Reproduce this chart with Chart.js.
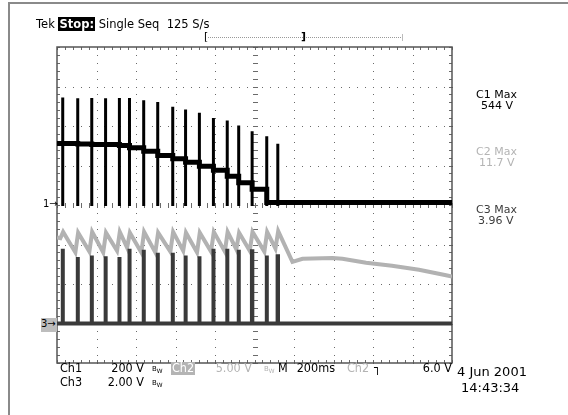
<!DOCTYPE html>
<html>
<head>
<meta charset="utf-8">
<script src="https://cdn.jsdelivr.net/npm/chart.js@4"></script>
<style>
  body { margin: 0; background: #fff; }
  #wrap { position: relative; width: 568px; height: 415px; overflow: hidden; font-family: "DejaVu Sans", sans-serif; color: #000; }
  #scope { position: absolute; left: 0; top: 0; }
  .t { position: absolute; white-space: nowrap; line-height: 1; }
  .b { font-family: "DejaVu Sans Condensed", "DejaVu Sans", sans-serif; font-stretch: condensed; font-size: 12.5px; top: 362px; }
  .r2 { top: 376px; }
  .frameL { position: absolute; left: 8px; top: 2px; width: 2px; height: 413px; background: #8a8a8a; }
  .frameT { position: absolute; left: 8px; top: 2px; width: 560px; height: 2px; background: #8a8a8a; }
  .inv { background: #000; color: #fff; padding: 0 1px; }
  .gbox { background: #b4b4b4; color: #fff; padding: 0 1px; }
  .gray { color: #b4b4b4; }
  .bw { font-size: 7px; top: 366px; }
  .bw.r2 { top: 380px; }
</style>
</head>
<body>
<div id="wrap">
  <canvas id="scope" width="568" height="415"></canvas>
  <div class="frameL"></div>
  <div class="frameT"></div>

  <div class="t" style="left:36px;top:19px;font-size:11.5px">Tek <span class="inv"><b>Stop:</b></span> Single Seq&nbsp;&nbsp;125 S/s</div>
  <div style="position:absolute;left:208px;top:37px;width:195px;border-top:1px dotted #999"></div>
  <div style="position:absolute;left:402px;top:34px;width:1px;height:7px;background:#bbb"></div>
  <div class="t" style="left:204px;top:31px;font-size:11px">[</div>
  <div class="t" style="left:301px;top:31px;font-size:11px;font-weight:bold">]</div>

  <div class="t" style="left:43px;top:199px;font-size:10px">1&#8594;</div>
  <div class="t" style="left:41px;top:318px;width:16px;height:13px;background:#bdbdbd;font-size:10px;padding-top:1px">3&#8594;</div>

  <div class="t" style="left:476px;top:89px;font-size:11px">C1 Max</div>
  <div class="t" style="left:481px;top:100px;font-size:11px">544 V</div>
  <div class="t gray" style="left:476px;top:146px;font-size:11px">C2 Max</div>
  <div class="t gray" style="left:479px;top:157px;font-size:11px">11.7 V</div>
  <div class="t" style="left:476px;top:204px;font-size:11px;color:#3c3c3c">C3 Max</div>
  <div class="t" style="left:478px;top:215px;font-size:11px;color:#3c3c3c">3.96 V</div>

  <div class="t b" style="left:60px">Ch1</div>
  <div class="t b" style="right:424px">200 V</div>
  <div class="t bw" style="left:152px">B<sub>W</sub></div>
  <div class="t b gbox" style="left:171px">Ch2</div>
  <div class="t b gray" style="right:316px">5.00 V</div>
  <div class="t bw gray" style="left:264px">B<sub>W</sub></div>
  <div class="t b" style="left:278px">M</div>
  <div class="t b" style="right:233px">200ms</div>
  <div class="t b gray" style="left:347px">Ch2</div>
  <div class="t b" style="left:374px;font-weight:bold">&#x2510;</div>
  <div class="t b" style="right:116px">6.0 V</div>
  <div class="t b r2" style="left:60px">Ch3</div>
  <div class="t b r2" style="right:424px">2.00 V</div>
  <div class="t bw r2" style="left:152px">B<sub>W</sub></div>

  <div class="t" style="left:457px;top:365px;font-size:13px">4 Jun 2001</div>
  <div class="t" style="left:461px;top:381px;font-size:13px">14:43:34</div>
</div>

<script>
// time of each pulse (ms from left edge of the screen)
const pulseTimes = [29, 105, 176, 246, 316, 367, 439, 510, 586, 651, 721, 792, 862, 920, 988, 1062, 1118];

// Ch1 (V): spike tops and the level held between spikes (first = before pulse 1)
const ch1Peaks = [544, 540, 542, 540, 542, 542, 531, 522, 497, 484, 467, 441, 428, 403, 374, 348, 310];
const ch1Levels = [315, 311, 311, 309, 306, 306, 301, 290, 272, 251, 234, 217, 196, 176, 146, 113, 80, 13];
const ch1SpikeLow = -5;

// Ch2 (V): sawtooth while pulsing, then slow decay
const ch2Start = 10.9;
const ch2Troughs = [10.8, 9.0, 9.1, 9.0, 9.2, 9.6, 9.0, 9.0, 9.1, 9.2, 9.0, 9.1, 9.1, 9.4, 9.2, 9.1, 9.5];
const ch2Peaks = [11.6, 11.5, 11.6, 11.5, 11.6, 11.5, 11.6, 11.5, 11.6, 11.5, 11.5, 11.6, 11.6, 11.5, 11.6, 11.6, 11.7];
const ch2TailTimes = [1192, 1243, 1395, 1445, 1565, 1696, 1833, 1970, 2000];
const ch2TailValues = [7.8, 8.2, 8.3, 8.2, 7.7, 7.3, 6.8, 6.1, 5.95];

// Ch3 (V): gate pulses
const ch3Peaks = [3.78, 3.37, 3.44, 3.40, 3.37, 3.78, 3.74, 3.58, 3.58, 3.44, 3.40, 3.78, 3.78, 3.74, 3.66, 3.44, 3.40];
const ch3Base = 0;

// build point lists
const ch1Stair = [{x: 0, y: ch1Levels[0]}];
pulseTimes.forEach((t, i) => ch1Stair.push({x: t, y: ch1Levels[i + 1]}));
ch1Stair.push({x: 2000, y: ch1Levels[ch1Levels.length - 1]});

const ch1Spikes = [];
pulseTimes.forEach((t, i) => {
    ch1Spikes.push({x: t, y: ch1SpikeLow}, {x: t, y: ch1Peaks[i]}, {x: t, y: null});
});

// sawtooth: quick rise just before each pulse, slow fall after it
const ch2Data = [{x: 0, y: ch2Start}];
pulseTimes.forEach((t, i) => {
    ch2Data.push({x: t - 12, y: ch2Troughs[i]}, {x: t + 2, y: ch2Peaks[i]});
});
ch2TailTimes.forEach((t, i) => ch2Data.push({x: t, y: ch2TailValues[i]}));

const ch3Data = [{x: 0, y: ch3Base}];
pulseTimes.forEach((t, i) => {
    ch3Data.push({x: t - 1, y: ch3Base}, {x: t - 1, y: ch3Peaks[i]}, {x: t + 1, y: ch3Peaks[i]}, {x: t + 1, y: ch3Base});
});
ch3Data.push({x: 2000, y: ch3Base});

// dotted graticule, centre-line ticks and edge ticks
const graticule = {
    id: 'graticule',
    beforeDatasetsDraw(chart) {
        const ctx = chart.ctx;
        const a = chart.chartArea;
        const xs = chart.scales.x;
        const ys = chart.scales.y1;
        ctx.save();
        ctx.fillStyle = '#6a6a6a';
        for (let t = 200; t < 2000; t += 200) {
            const px = Math.round(xs.getPixelForValue(t));
            for (let v = -800; v <= 800; v += 40) ctx.fillRect(px, Math.round(ys.getPixelForValue(v)), 1, 1);
        }
        for (let v = -600; v < 800; v += 200) {
            const py = Math.round(ys.getPixelForValue(v));
            for (let t = 0; t <= 2000; t += 40) ctx.fillRect(Math.round(xs.getPixelForValue(t)), py, 1, 1);
        }
        const cx = Math.round(xs.getPixelForValue(1000));
        const cy = Math.round(ys.getPixelForValue(0));
        for (let v = -800; v <= 800; v += 40) {
            const py = Math.round(ys.getPixelForValue(v));
            ctx.fillRect(cx - 2, py, 5, 1);
            ctx.fillRect(a.left, py, 3, 1);
            ctx.fillRect(a.right - 3, py, 3, 1);
        }
        for (let t = 0; t <= 2000; t += 40) {
            const px = Math.round(xs.getPixelForValue(t));
            ctx.fillRect(px, cy - 2, 1, 5);
            ctx.fillRect(px, a.top, 1, 3);
            ctx.fillRect(px, a.bottom - 3, 1, 3);
        }
        ctx.strokeStyle = '#555';
        ctx.lineWidth = 1.5;
        ctx.strokeRect(a.left, a.top, a.right - a.left, a.bottom - a.top);
        ctx.restore();
    }
};

const lineStyle = {
    pointRadius: 0,
    tension: 0,
    spanGaps: false,
    borderCapStyle: 'butt',
    borderJoinStyle: 'miter',
    fill: false
};

new Chart(document.getElementById('scope').getContext('2d'), {
    type: 'line',
    data: {
        datasets: [
            Object.assign({label: 'Ch1', data: ch1Stair, yAxisID: 'y1', borderColor: '#000', borderWidth: 5, stepped: 'after'}, lineStyle),
            Object.assign({label: 'Ch1 spikes', data: ch1Spikes, yAxisID: 'y1', borderColor: '#000', borderWidth: 3}, lineStyle),
            Object.assign({label: 'Ch3', data: ch3Data, yAxisID: 'y3', borderColor: '#3a3a3a', borderWidth: 4}, lineStyle),
            Object.assign({label: 'Ch2', data: ch2Data, yAxisID: 'y2', borderColor: '#b2b2b2', borderWidth: 4}, lineStyle)
        ]
    },
    options: {
        responsive: false,
        animation: false,
        devicePixelRatio: 1,
        layout: { padding: { left: 57, top: 47, right: 116, bottom: 52 } },
        plugins: { legend: { display: false }, tooltip: { enabled: false } },
        scales: {
            x: { type: 'linear', min: 0, max: 2000, display: false },
            y1: { type: 'linear', min: -800, max: 800, display: false },
            y2: { type: 'linear', min: -5, max: 35, display: false },
            y3: { type: 'linear', min: -2, max: 14, display: false }
        }
    },
    plugins: [graticule]
});
</script>
</body>
</html>
